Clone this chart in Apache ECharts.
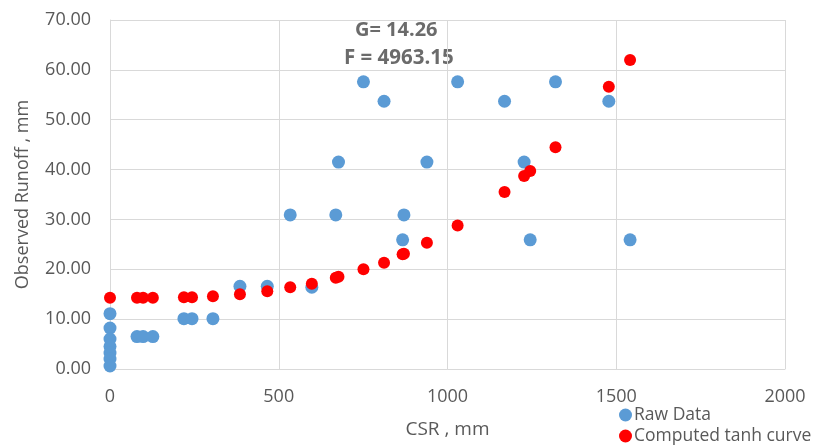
<!DOCTYPE html>
<html>
<head>
<meta charset="utf-8">
<script src="https://cdn.jsdelivr.net/npm/echarts@6/dist/echarts.min.js"></script>
<style>
  html, body { margin: 0; padding: 0; background: #fff; }
  #chart { width: 813px; height: 446px; }
</style>
</head>
<body>
<div id="chart"></div>
<script>
// Raw data (CSR, observed runoff)
const rawCsr = [0, 0, 0, 0, 0, 0, 0, 80, 98, 127, 219, 243, 305, 385, 466, 534, 598, 669, 677, 751, 812, 867, 871, 939, 1030, 1169, 1227, 1245, 1320, 1478, 1541];
const rawRunoff = [11.1, 8.2, 6.0, 4.5, 3.2, 2.0, 0.6, 6.5, 6.5, 6.5, 10.1, 10.1, 10.1, 16.6, 16.6, 30.9, 16.4, 30.9, 41.5, 57.6, 53.7, 25.9, 30.9, 41.5, 57.6, 53.7, 41.5, 25.9, 57.6, 53.7, 25.9];

// Computed tanh curve
const fitCsr = [0, 80, 98, 127, 219, 243, 305, 385, 466, 534, 598, 669, 677, 751, 812, 867, 871, 939, 1030, 1169, 1227, 1245, 1320, 1478, 1541];
const fitRunoff = [14.3, 14.3, 14.3, 14.3, 14.4, 14.4, 14.6, 15.0, 15.6, 16.4, 17.1, 18.3, 18.5, 20.0, 21.3, 23.0, 23.1, 25.3, 28.8, 35.5, 38.7, 39.7, 44.5, 56.6, 62.0];

const fitText = ['G= 14.26', 'F = 4963.15'];

const chart = echarts.init(document.getElementById('chart'));

const font = 'Open Sans';
const gray = '#595959';
const gridColor = '#d9d9d9';

// one legend per item so they stack
const legendItem = (name, top) => ({
    left: 614,
    top: top,
    itemWidth: 13,
    itemHeight: 13,
    textStyle: { color: gray, fontSize: 17.5, fontFamily: font, padding: [0, 0, 0, -3] },
    data: [{ name: name, icon: 'circle' }],
});

const option = {
    animation: false,
    textStyle: { fontFamily: font },
    grid: { left: 110, right: 28, top: 20, bottom: 77 },
    legend: [
        legendItem('Raw Data', 401),
        legendItem('Computed tanh curve', 422),
    ],
    xAxis: {
        type: 'value',
        min: 0,
        max: 2000,
        interval: 500,
        name: 'CSR , mm',
        nameLocation: 'middle',
        nameGap: 51,
        nameTextStyle: { color: gray, fontSize: 19 },
        axisLine: { show: true, lineStyle: { color: gridColor } },
        axisTick: { show: false },
        axisLabel: { color: gray, fontSize: 18, margin: 19, formatter: (v) => String(v) },
        splitLine: { show: true, lineStyle: { color: gridColor } },
    },
    yAxis: {
        type: 'value',
        min: 0,
        max: 70,
        interval: 10,
        name: 'Observed Runoff , mm',
        nameLocation: 'middle',
        nameGap: 78,
        nameTextStyle: { color: gray, fontSize: 18 },
        axisLine: { show: true, lineStyle: { color: gridColor } },
        axisTick: { show: false },
        axisLabel: {
            color: gray,
            fontSize: 18,
            margin: 19,
            formatter: (v) => v.toFixed(2),
        },
        splitLine: { show: true, lineStyle: { color: gridColor } },
    },
    graphic: [
        {
            type: 'text',
            left: 355,
            top: 20,
            style: {
                text: fitText[0],
                fill: '#6b6b6b',
                font: 'bold 20px "Open Sans"',
            },
        },
        {
            type: 'text',
            left: 344,
            top: 48,
            style: {
                text: fitText[1],
                fill: '#6b6b6b',
                font: 'bold 20.5px "Open Sans"',
            },
        },
    ],
    series: [
        {
            name: 'Raw Data',
            type: 'scatter',
            symbolSize: 13,
            itemStyle: { color: '#5b9bd5', opacity: 1 },
            data: rawCsr.map((x, i) => [x, rawRunoff[i]]),
        },
        {
            name: 'Computed tanh curve',
            type: 'scatter',
            symbolSize: 12,
            itemStyle: { color: '#ff0000', opacity: 1 },
            data: fitCsr.map((x, i) => [x, fitRunoff[i]]),
        },
    ],
};

chart.setOption(option);
</script>
</body>
</html>
